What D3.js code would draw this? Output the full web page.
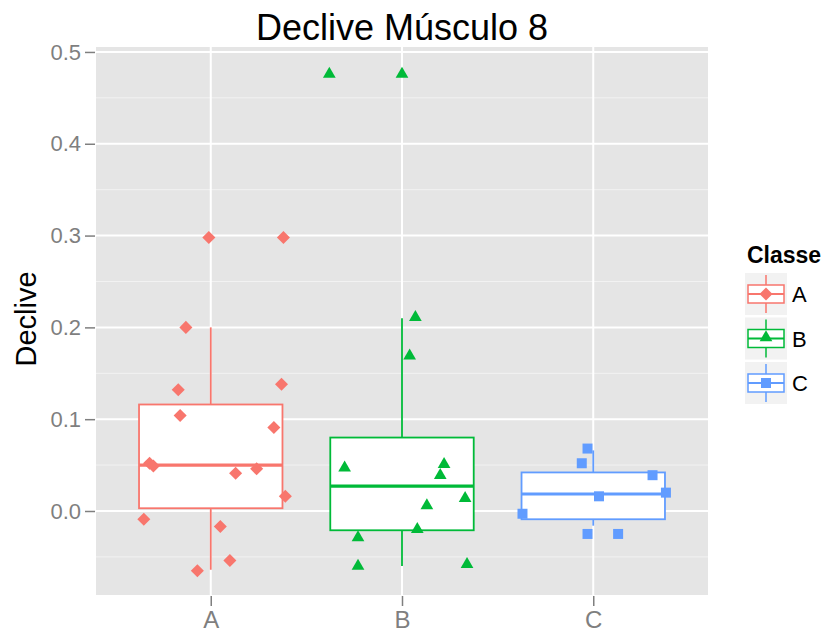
<!DOCTYPE html>
<html>
<head>
<meta charset="utf-8">
<script src="https://cdn.jsdelivr.net/npm/d3@7"></script>
<style>
body { margin: 0; background: #fff; }
text { font-family: "Liberation Sans", Arial, sans-serif; }
</style>
</head>
<body>
<script>
const classes = ['A', 'B', 'C'];
const colors = ['#F8766D', '#00BA38', '#619CFF'];
const yTicks = [0.0, 0.1, 0.2, 0.3, 0.4, 0.5];

// box stats: [whiskerLow, q1, median, q3, whiskerHigh]
const boxA = [-0.064, 0.003, 0.050, 0.116, 0.200];
const boxB = [-0.060, -0.021, 0.027, 0.080, 0.210];
const boxC = [-0.016, -0.009, 0.0185, 0.042, 0.066];

// jittered points: x offset (in category units), value
const jitA = [-0.01, 0.38, -0.13, -0.17, 0.37, -0.16, 0.33, -0.32, -0.30, 0.13, 0.24, 0.39, -0.35, 0.05, 0.10, -0.07];
const valA = [0.298, 0.298, 0.200, 0.132, 0.138, 0.104, 0.091, 0.052, 0.049, 0.041, 0.046, 0.016, -0.009, -0.017, -0.054, -0.065];
const jitB = [-0.38, 0.00, 0.07, 0.04, -0.30, 0.22, 0.20, 0.33, 0.13, 0.08, -0.23, -0.23, 0.34];
const valB = [0.477, 0.477, 0.212, 0.170, 0.048, 0.052, 0.040, 0.015, 0.007, -0.019, -0.028, -0.059, -0.057];
const jitC = [-0.03, -0.06, 0.31, 0.03, 0.38, -0.37, -0.03, 0.13];
const valC = [0.068, 0.052, 0.039, 0.016, 0.020, -0.003, -0.025, -0.025];

const boxes = [boxA, boxB, boxC];
const jits = [jitA, jitB, jitC];
const vals = [valA, valB, valC];

const W = 824, H = 643;
const panel = { left: 96, right: 708, top: 47, bottom: 595 };

const svg = d3.select('body').append('svg').attr('width', W).attr('height', H);

// discrete axis, expanded 0.6 units on each side
const xi = d3.scaleLinear().domain([-0.6, classes.length - 1 + 0.6]).range([panel.left, panel.right]);
const xc = c => xi(classes.indexOf(c));
const step = xi(1) - xi(0);
const y = d3.scaleLinear().domain([-0.0915, 0.5054]).range([panel.bottom, panel.top]);

// panel
svg.append('rect')
    .attr('x', panel.left).attr('y', panel.top)
    .attr('width', panel.right - panel.left).attr('height', panel.bottom - panel.top)
    .attr('fill', '#E5E5E5');

const minor = d3.range(-0.05, 0.5, 0.1);
svg.selectAll('.minor').data(minor).enter().append('line')
    .attr('x1', panel.left).attr('x2', panel.right)
    .attr('y1', d => y(d)).attr('y2', d => y(d))
    .attr('stroke', '#F2F2F2').attr('stroke-width', 1);
svg.selectAll('.major').data(yTicks).enter().append('line')
    .attr('x1', panel.left).attr('x2', panel.right)
    .attr('y1', d => y(d)).attr('y2', d => y(d))
    .attr('stroke', '#fff').attr('stroke-width', 2);
svg.selectAll('.vmajor').data(classes).enter().append('line')
    .attr('x1', d => xc(d)).attr('x2', d => xc(d))
    .attr('y1', panel.top).attr('y2', panel.bottom)
    .attr('stroke', '#fff').attr('stroke-width', 2);

// axes
const yAxis = d3.axisLeft(y).tickValues(yTicks).tickFormat(d3.format('.1f')).tickSize(10).tickPadding(4);
const gy = svg.append('g').attr('transform', `translate(${panel.left - 1},0)`).call(yAxis);
gy.select('.domain').remove();
gy.selectAll('line').attr('stroke', '#7F7F7F').attr('stroke-width', 1.5);
gy.selectAll('text').attr('fill', '#7F7F7F').style('font-size', '22px');

const xAxis = d3.axisBottom(d3.scalePoint().domain(classes).range([xc('A'), xc('C')])).tickSize(10).tickPadding(5);
const gx = svg.append('g').attr('transform', `translate(0,${panel.bottom + 1})`).call(xAxis);
gx.select('.domain').remove();
gx.selectAll('line').attr('stroke', '#7F7F7F').attr('stroke-width', 1.5);
gx.selectAll('text').attr('fill', '#7F7F7F').style('font-size', '24px');

// boxplots
const bw = step * 0.75;
classes.forEach((c, i) => {
    const b = boxes[i], col = colors[i], cx = xc(c);
    const g = svg.append('g');
    g.append('line').attr('x1', cx).attr('x2', cx).attr('y1', y(b[0])).attr('y2', y(b[4]))
        .attr('stroke', col).attr('stroke-width', 1.8);
    g.append('rect').attr('x', cx - bw / 2).attr('width', bw)
        .attr('y', y(b[3])).attr('height', y(b[1]) - y(b[3]))
        .attr('fill', '#fff').attr('stroke', col).attr('stroke-width', 1.8);
    g.append('line').attr('x1', cx - bw / 2).attr('x2', cx + bw / 2).attr('y1', y(b[2])).attr('y2', y(b[2]))
        .attr('stroke', col).attr('stroke-width', 3.2);
});

// points
const symbols = [
    d3.symbol().type(d3.symbolSquare).size(85),
    d3.symbol().type(d3.symbolTriangle).size(70),
    d3.symbol().type(d3.symbolSquare).size(100)
];
const rot = [45, 0, 0];
classes.forEach((c, i) => {
    svg.selectAll('.pt' + c).data(vals[i]).enter().append('path')
        .attr('d', symbols[i])
        .attr('transform', (d, k) => `translate(${xc(c) + jits[i][k] * step},${y(d) + (i === 1 ? 1 : 0)}) rotate(${rot[i]})`)
        .attr('fill', colors[i]);
});

// title and labels
svg.append('text').attr('x', (panel.left + panel.right) / 2).attr('y', 40)
    .attr('text-anchor', 'middle').style('font-size', '36px').attr('fill', '#000')
    .text('Declive Músculo 8');
svg.append('text').attr('transform', `translate(36,${(panel.top + panel.bottom) / 2 - 2}) rotate(-90)`)
    .attr('text-anchor', 'middle').style('font-size', '29px').attr('fill', '#000')
    .text('Declive');

// legend
const lg = svg.append('g').attr('transform', 'translate(745,0)');
lg.append('text').attr('x', 2).attr('y', 263).style('font-size', '23px').style('font-weight', 'bold')
    .attr('fill', '#000').text('Classe');
const keyY = d3.scalePoint().domain(classes).range([294, 383]);
classes.forEach((c, i) => {
    const ky = keyY(c);
    const k = lg.append('g').attr('transform', `translate(0,${ky})`);
    k.append('rect').attr('x', 0).attr('y', -21).attr('width', 42).attr('height', 42).attr('fill', '#F2F2F2');
    k.append('line').attr('x1', 21).attr('x2', 21).attr('y1', -19).attr('y2', 19).attr('stroke', colors[i]).attr('stroke-width', 1.5);
    k.append('rect').attr('x', 3).attr('y', -9).attr('width', 36).attr('height', 18)
        .attr('fill', '#fff').attr('stroke', colors[i]).attr('stroke-width', 1.5);
    k.append('line').attr('x1', 3).attr('x2', 39).attr('y1', 0).attr('y2', 0).attr('stroke', colors[i]).attr('stroke-width', 2);
    k.append('path').attr('d', symbols[i]).attr('transform', `translate(21,${i === 1 ? -1 : 0}) rotate(${rot[i]})`).attr('fill', colors[i]);
    k.append('text').attr('x', 47).attr('y', 8).style('font-size', '22px').attr('fill', '#000').text(c);
});
</script>
</body>
</html>
